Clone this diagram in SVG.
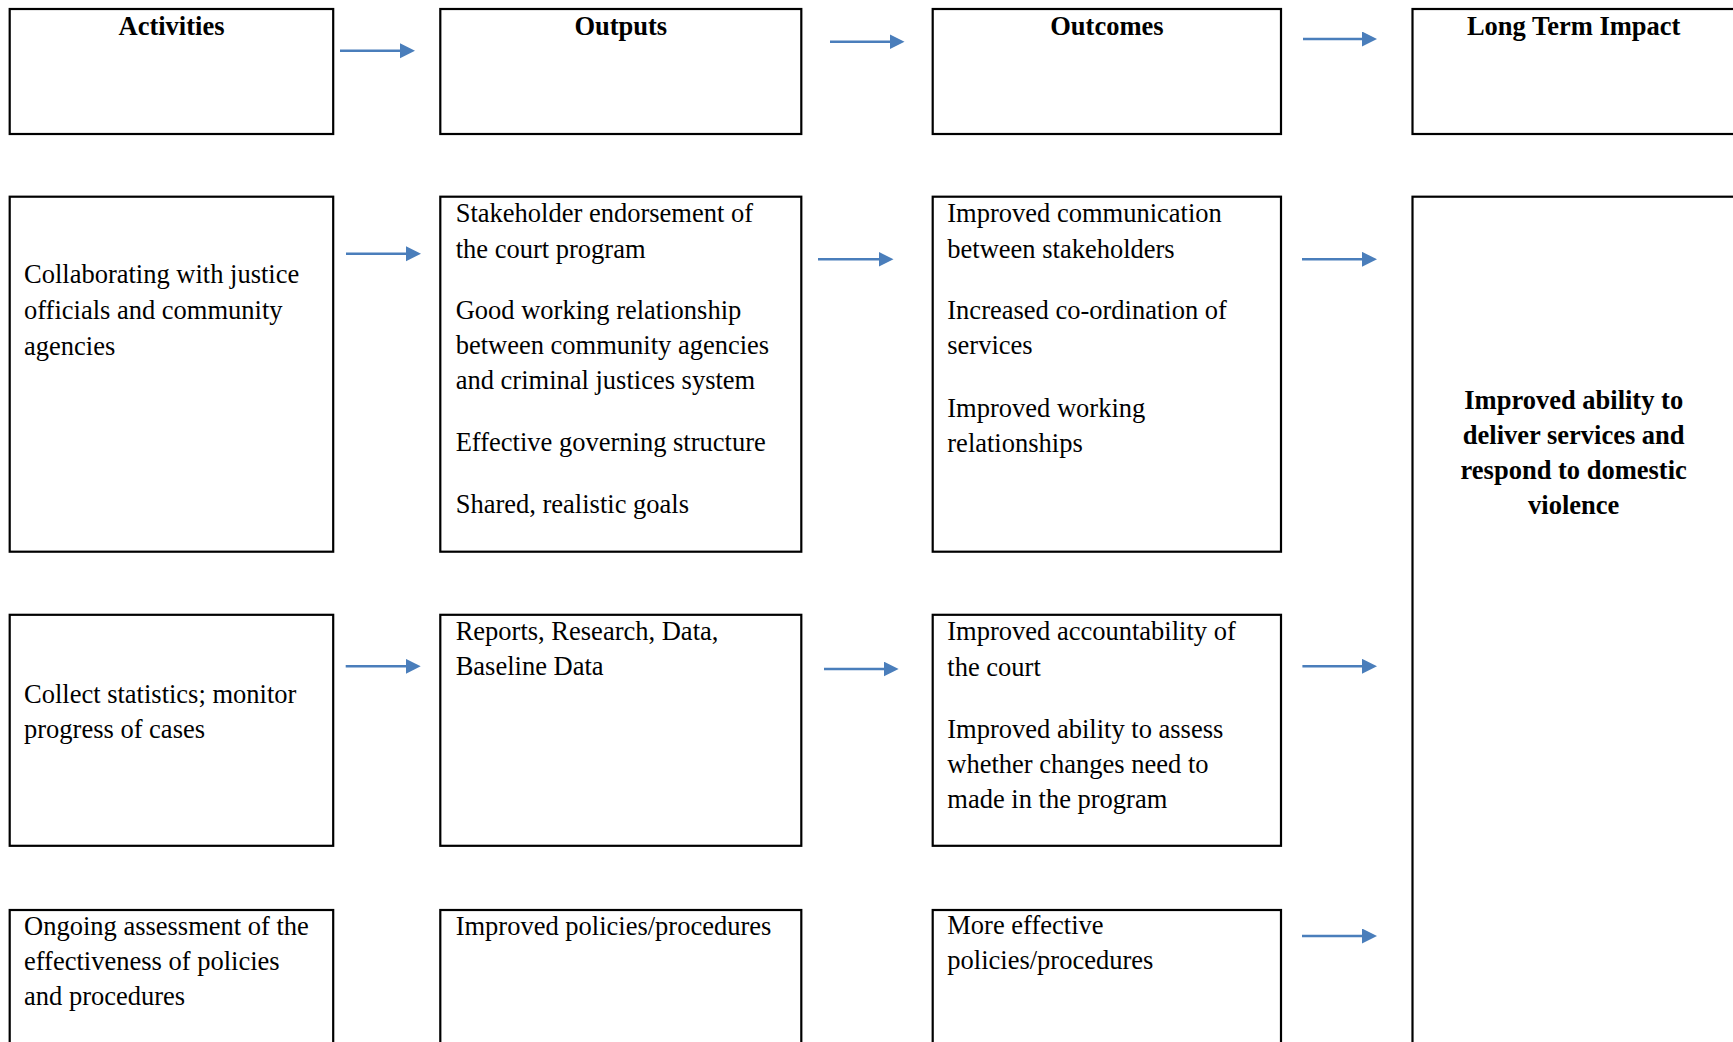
<svg xmlns="http://www.w3.org/2000/svg" width="1733" height="1042" viewBox="0 0 1733 1042">
<style>
.box{fill:#fff;stroke:#000;stroke-width:2.2}
.t{font-family:"Liberation Serif","Times New Roman",serif;font-size:26.5px;fill:#000}
.h{font-family:"Liberation Serif","Times New Roman",serif;font-size:26.5px;font-weight:bold;fill:#000;text-anchor:middle}
.arr{stroke:#4A7EBB;stroke-width:2.6;fill:none;marker-end:url(#ah)}
</style>
<defs>
<marker id="ah" markerUnits="userSpaceOnUse" markerWidth="16" markerHeight="16" refX="2" refY="7.5" orient="auto" viewBox="0 0 16 16">
<path d="M0,0 L15,7.5 L0,15 z" fill="#4A7EBB"/>
</marker>
</defs>
<rect width="1733" height="1042" fill="#fff"/>

<g id="h-activities"><rect class="box" x="9.7" y="9" width="323.5" height="125"/><text class="h" x="171.5" y="35">Activities</text></g>
<g id="h-outputs"><rect class="box" x="440.3" y="9" width="361" height="125"/><text class="h" x="620.8" y="35">Outputs</text></g>
<g id="h-outcomes"><rect class="box" x="932.7" y="9" width="348.3" height="125"/><text class="h" x="1106.9" y="35">Outcomes</text></g>
<g id="h-impact"><rect class="box" x="1412.5" y="9" width="340" height="125"/><text class="h" x="1573.7" y="35">Long Term Impact</text></g>

<g id="a1"><rect class="box" x="9.7" y="196.7" width="323.5" height="355"/>
<text class="t"><tspan x="24" y="283.3">Collaborating with justice</tspan><tspan x="24" y="319.3">officials and community</tspan><tspan x="24" y="355">agencies</tspan></text></g>
<g id="o1"><rect class="box" x="440.3" y="196.7" width="361" height="355"/>
<text class="t"><tspan x="455.7" y="221.7">Stakeholder endorsement of</tspan><tspan x="455.7" y="257.7">the court program</tspan><tspan x="455.7" y="319.3">Good working relationship</tspan><tspan x="455.7" y="354.3">between community agencies</tspan><tspan x="455.7" y="389.3">and criminal justices system</tspan><tspan x="455.7" y="451">Effective governing structure</tspan><tspan x="455.7" y="513.3">Shared, realistic goals</tspan></text></g>
<g id="c1"><rect class="box" x="932.7" y="196.7" width="348.3" height="355"/>
<text class="t"><tspan x="947.3" y="221.7">Improved communication</tspan><tspan x="947.3" y="257.7">between stakeholders</tspan><tspan x="947.3" y="319">Increased co-ordination of</tspan><tspan x="947.3" y="354">services</tspan><tspan x="947.3" y="416.7">Improved working</tspan><tspan x="947.3" y="451.7">relationships</tspan></text></g>
<g id="impact"><rect class="box" x="1412.5" y="196.7" width="340" height="900"/>
<text class="h"><tspan x="1573.7" y="409">Improved ability to</tspan><tspan x="1573.7" y="444">deliver services and</tspan><tspan x="1573.7" y="479">respond to domestic</tspan><tspan x="1573.7" y="514">violence</tspan></text></g>

<g id="a2"><rect class="box" x="9.7" y="614.8" width="323.5" height="231"/>
<text class="t"><tspan x="24" y="702.7">Collect statistics; monitor</tspan><tspan x="24" y="737.7">progress of cases</tspan></text></g>
<g id="o2"><rect class="box" x="440.3" y="614.8" width="361" height="231"/>
<text class="t"><tspan x="455.7" y="640">Reports, Research, Data,</tspan><tspan x="455.7" y="675">Baseline Data</tspan></text></g>
<g id="c2"><rect class="box" x="932.7" y="614.8" width="348.3" height="231"/>
<text class="t"><tspan x="947.3" y="640">Improved accountability of</tspan><tspan x="947.3" y="676">the court</tspan><tspan x="947.3" y="737.7">Improved ability to assess</tspan><tspan x="947.3" y="772.7">whether changes need to</tspan><tspan x="947.3" y="807.7">made in the program</tspan></text></g>

<g id="a3"><rect class="box" x="9.7" y="910" width="323.5" height="200"/>
<text class="t"><tspan x="24" y="935">Ongoing assessment of the</tspan><tspan x="24" y="970">effectiveness of policies</tspan><tspan x="24" y="1005">and procedures</tspan></text></g>
<g id="o3"><rect class="box" x="440.3" y="910" width="361" height="200"/>
<text class="t"><tspan x="455.7" y="934.5">Improved policies/procedures</tspan></text></g>
<g id="c3"><rect class="box" x="932.7" y="910" width="348.3" height="200"/>
<text class="t"><tspan x="947.3" y="934.3">More effective</tspan><tspan x="947.3" y="969.3">policies/procedures</tspan></text></g>

<g id="connectors">
<line class="arr" x1="340" y1="50.7" x2="402" y2="50.7"/>
<line class="arr" x1="830" y1="41.7" x2="891.5" y2="41.7"/>
<line class="arr" x1="1303" y1="39" x2="1364" y2="39"/>
<line class="arr" x1="346" y1="253.7" x2="408" y2="253.7"/>
<line class="arr" x1="818" y1="259.3" x2="880.5" y2="259.3"/>
<line class="arr" x1="1302" y1="259.3" x2="1364" y2="259.3"/>
<line class="arr" x1="345.7" y1="666.3" x2="407.7" y2="666.3"/>
<line class="arr" x1="824" y1="669" x2="885.6" y2="669"/>
<line class="arr" x1="1302.4" y1="666.3" x2="1364" y2="666.3"/>
<line class="arr" x1="1302" y1="936" x2="1364" y2="936"/>
</g>
</svg>
